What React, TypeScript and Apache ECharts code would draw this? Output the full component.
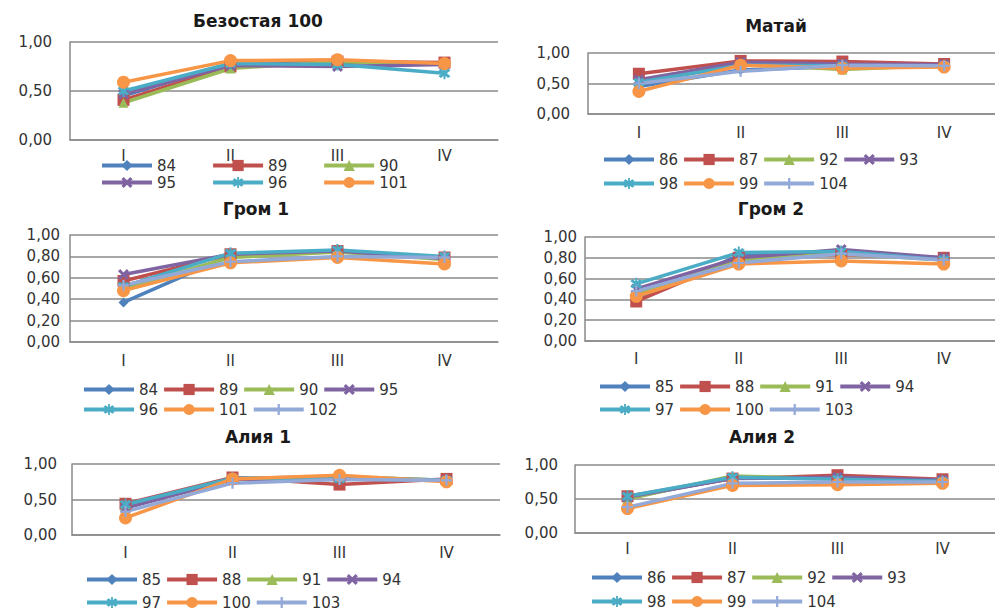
import React, { useEffect, useRef } from "react";
import * as echarts from "echarts";

const categories = ["I", "II", "III", "IV"];

const titles = ["Безостая 100", "Матай", "Гром 1", "Гром 2", "Алия 1", "Алия 2"];

// Безостая 100
const p1Names = ["84", "89", "90", "95", "96", "101"];
const p1Values = [
  [0.45, 0.78, 0.79, 0.78],
  [0.41, 0.75, 0.8, 0.79],
  [0.38, 0.73, 0.8, 0.77],
  [0.47, 0.76, 0.75, 0.77],
  [0.5, 0.78, 0.77, 0.68],
  [0.59, 0.81, 0.82, 0.78],
];

// Матай
const p2Names = ["86", "87", "92", "93", "98", "99", "104"];
const p2Values = [
  [0.45, 0.72, 0.78, 0.8],
  [0.66, 0.87, 0.86, 0.82],
  [0.5, 0.82, 0.73, 0.8],
  [0.56, 0.85, 0.82, 0.81],
  [0.52, 0.8, 0.79, 0.79],
  [0.37, 0.8, 0.75, 0.77],
  [0.5, 0.7, 0.8, 0.79],
];

// Гром 1
const p3Names = ["84", "89", "90", "95", "96", "101", "102"];
const p3Values = [
  [0.37, 0.81, 0.85, 0.79],
  [0.57, 0.82, 0.85, 0.79],
  [0.5, 0.79, 0.84, 0.77],
  [0.63, 0.82, 0.85, 0.78],
  [0.52, 0.83, 0.86, 0.8],
  [0.48, 0.74, 0.79, 0.73],
  [0.53, 0.75, 0.8, 0.79],
];

// Гром 2
const p4Names = ["85", "88", "91", "94", "97", "100", "103"];
const p4Values = [
  [0.4, 0.82, 0.85, 0.79],
  [0.38, 0.8, 0.83, 0.8],
  [0.45, 0.78, 0.84, 0.78],
  [0.5, 0.8, 0.88, 0.8],
  [0.55, 0.85, 0.86, 0.78],
  [0.43, 0.74, 0.77, 0.74],
  [0.48, 0.75, 0.84, 0.78],
];

// Алия 1
const p5Names = ["85", "88", "91", "94", "97", "100", "103"];
const p5Values = [
  [0.4, 0.8, 0.82, 0.77],
  [0.44, 0.81, 0.71, 0.79],
  [0.42, 0.79, 0.82, 0.77],
  [0.38, 0.78, 0.8, 0.77],
  [0.43, 0.8, 0.79, 0.77],
  [0.24, 0.79, 0.84, 0.75],
  [0.33, 0.73, 0.78, 0.77],
];

// Алия 2
const p6Names = ["86", "87", "92", "93", "98", "99", "104"];
const p6Values = [
  [0.52, 0.81, 0.8, 0.77],
  [0.54, 0.8, 0.85, 0.79],
  [0.5, 0.84, 0.8, 0.77],
  [0.53, 0.8, 0.82, 0.78],
  [0.54, 0.82, 0.79, 0.76],
  [0.36, 0.7, 0.71, 0.73],
  [0.38, 0.73, 0.75, 0.75],
];

const yIntervals = [0.5, 0.5, 0.2, 0.2, 0.5, 0.5];

const panelNames = [p1Names, p2Names, p3Names, p4Names, p5Names, p6Names];
const panelValues = [p1Values, p2Values, p3Values, p4Values, p5Values, p6Values];

// ---- styles / layout ----
const COLORS = ["#4F81BD", "#C0504D", "#9BBB59", "#8064A2", "#4BACC6", "#F79646", "#93A9D8"];
const X_PATH = "path://M0,2L2,0L5,3L8,0L10,2L7,5L10,8L8,10L5,7L2,10L0,8L3,5Z";
const STAR_PATH =
  "path://M0,2L2,0L5,3L8,0L10,2L7,5L10,8L8,10L5,7L2,10L0,8L3,5Z M4.2,-1.5L5.8,-1.5L5.8,11.5L4.2,11.5Z";
const PLUS_PATH = "path://M4,0L6,0L6,4L10,4L10,6L6,6L6,10L4,10L4,6L0,6L0,4L4,4Z";
const SYMBOLS = ["diamond", "rect", "triangle", X_PATH, STAR_PATH, "circle", PLUS_PATH];
const SIZES = [10, 12, 10, 11, 12, 13, 11];

const GRIDS = [
  { left: 70, top: 42, width: 428, height: 98 },
  { left: 588, top: 53, width: 422, height: 61 },
  { left: 70, top: 235, width: 428, height: 107 },
  { left: 585, top: 237, width: 423, height: 104 },
  { left: 72, top: 464, width: 428, height: 71 },
  { left: 575, top: 465, width: 424, height: 68 },
];
const TITLE_POS = [
  [258, 22],
  [776, 27],
  [256, 210],
  [771, 210],
  [258, 438],
  [762, 438],
];
const X_LABEL_MARGIN = [8, 11, 11, 10, 10, 8];
const Y_LABEL_MARGIN = [18, 18, 10, 8, 15, 17];
// legend rows: [left, centerY, itemGap, indices]
const LEGEND_ROWS = [
  [
    [100, 166, 35, [0, 1, 2]],
    [100, 183, 35, [3, 4, 5]],
  ],
  [
    [602, 160, 4, [0, 1, 2, 3]],
    [602, 184, 4, [4, 5, 6]],
  ],
  [
    [82, 390, 4, [0, 1, 2, 3]],
    [82, 410, 4, [4, 5, 6]],
  ],
  [
    [598, 387, 4, [0, 1, 2, 3]],
    [598, 410, 4, [4, 5, 6]],
  ],
  [
    [85, 580, 4, [0, 1, 2, 3]],
    [85, 603, 4, [4, 5, 6]],
  ],
  [
    [590, 578, 4, [0, 1, 2, 3]],
    [590, 602, 4, [4, 5, 6]],
  ],
];

const FONT = "DejaVu Sans";
const GRAY = "#8A8A8A";

export default function App() {
  const ref = useRef<HTMLDivElement>(null);

  useEffect(() => {
    if (!ref.current) return;
    const chart = echarts.init(ref.current, undefined, { renderer: "svg" });

    const title: any[] = [];
    const grid: any[] = [];
    const xAxis: any[] = [];
    const yAxis: any[] = [];
    const series: any[] = [];
    const legend: any[] = [];

    panelNames.forEach((names, i) => {
      title.push({
        text: titles[i],
        left: TITLE_POS[i][0],
        top: TITLE_POS[i][1] - 10,
        textAlign: "center",
        padding: 0,
        textStyle: { fontFamily: FONT, fontSize: 17, fontWeight: "bold", color: "#1a1a1a" },
      });
      grid.push({ ...GRIDS[i], containLabel: false });
      xAxis.push({
        type: "category",
        gridIndex: i,
        data: categories,
        boundaryGap: true,
        axisLine: { show: true, lineStyle: { color: GRAY, width: 1.5 } },
        axisTick: { show: false },
        axisLabel: {
          margin: X_LABEL_MARGIN[i],
          fontFamily: FONT,
          fontSize: 15,
          color: "#333333",
        },
        splitLine: { show: false },
      });
      yAxis.push({
        type: "value",
        gridIndex: i,
        min: 0,
        max: 1,
        interval: yIntervals[i],
        axisLine: { show: true, lineStyle: { color: GRAY, width: 1.5 } },
        axisTick: { show: false },
        axisLabel: {
          margin: Y_LABEL_MARGIN[i],
          fontFamily: FONT,
          fontSize: 15,
          color: "#333333",
          formatter: (v: number) => v.toFixed(2).replace(".", ","),
        },
        splitLine: { show: true, lineStyle: { color: GRAY, width: 1.5 } },
      });
      names.forEach((n, j) => {
        series.push({
          type: "line",
          name: `${n}|${i}`,
          xAxisIndex: i,
          yAxisIndex: i,
          data: panelValues[i][j],
          symbol: SYMBOLS[j],
          symbolSize: SIZES[j],
          showAllSymbol: true,
          color: COLORS[j],
          lineStyle: { color: COLORS[j], width: 3.5 },
          itemStyle: { color: COLORS[j] },
          emphasis: { disabled: true },
        });
      });
      LEGEND_ROWS[i].forEach((row: any) => {
        const [lx, ly, gap, idx] = row;
        legend.push({
          left: lx,
          top: ly - 8,
          padding: 0,
          itemGap: gap,
          itemWidth: 50,
          itemHeight: 14,
          selectedMode: false,
          lineStyle: { width: 4 },
          data: idx.map((k: number) => `${names[k]}|${i}`),
          formatter: (name: string) => name.split("|")[0],
          textStyle: { fontFamily: FONT, fontSize: 15, color: "#333333", width: 30 },
        });
      });
    });

    chart.setOption({
      animation: false,
      backgroundColor: "#ffffff",
      title,
      grid,
      xAxis,
      yAxis,
      legend,
      series,
    });

    return () => chart.dispose();
  }, []);

  return (
    <div
      ref={ref}
      style={{ position: "absolute", left: 0, top: 0, width: 995, height: 612 }}
    />
  );
}
